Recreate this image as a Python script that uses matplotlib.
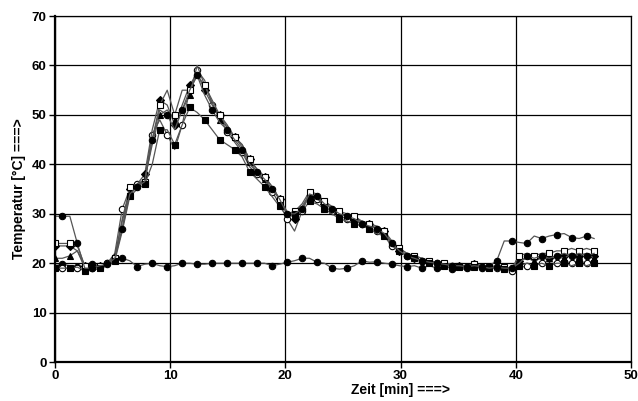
import matplotlib.pyplot as plt
import numpy as np

plt.rcParams['font.family'] = ['Liberation Sans', 'DejaVu Sans']

# time axis [min], one sample every 0.65 min
t = [0.0, 0.65, 1.3, 1.95, 2.6, 3.25, 3.9, 4.55, 5.2, 5.85, 6.5, 7.15, 7.8, 8.45, 9.1, 9.75,
     10.4, 11.05, 11.7, 12.35, 13.0, 13.65, 14.3, 14.95, 15.6, 16.25, 16.9, 17.55, 18.2, 18.85,
     19.5, 20.15, 20.8, 21.45, 22.1, 22.75, 23.4, 24.05, 24.7, 25.35, 26.0, 26.65, 27.3, 27.95,
     28.6, 29.25, 29.9, 30.55, 31.2, 31.85, 32.5, 33.15, 33.8, 34.45, 35.1, 35.75, 36.4, 37.05,
     37.7, 38.35, 39.0, 39.65, 40.3, 40.95, 41.6, 42.25, 42.9, 43.55, 44.2, 44.85, 45.5, 46.15, 46.8]

# temperatures [°C]
t_circle_hot = [29.5, 29.5, 29.5, 24, 19, 19, 19.5, 19.8, 21, 27, 34, 35.5, 36.5, 45, 51, 50,
                47, 51, 55, 58, 54, 51, 48.5, 47, 45, 43, 40, 38.5, 37, 35, 33, 30, 30, 31, 34,
                33.5, 32, 31, 30, 29.5, 29, 28, 27.5, 27, 26, 24, 22.5, 21.5, 21, 20.5, 20.2, 20,
                19.8, 19.5, 19.5, 19.3, 19.5, 19.3, 19, 19.2, 19, 19, 20, 21.5, 21, 21.5, 21,
                21.5, 22, 21.5, 22, 21.5, 22]
t_open_square = [24, 24, 24, 23.5, 19.5, 19, 19.5, 20, 21, 27, 35.5, 36, 36.5, 45, 52, 55, 50,
                 55, 55, 58, 56, 53, 50, 48, 45.5, 44, 41, 39, 37.5, 35.5, 33, 30, 30.5, 32,
                 34.5, 34, 32.5, 31.5, 30.5, 30, 29.5, 28.5, 28, 27.5, 26.5, 24.5, 23, 22, 21.5,
                 21, 20.5, 20.2, 20, 19.8, 19.5, 19.6, 19.8, 19.5, 19.3, 19.5, 19.2, 19, 21.5, 22,
                 21.5, 22, 22, 22.5, 22.5, 23, 22.5, 23, 22.5]
t_filled_square = [19, 19, 19, 19.2, 18.5, 18.5, 19, 19.5, 20.5, 26.5, 33.5, 35, 36, 40, 47, 47,
                   44, 48, 51.5, 50.5, 49, 47, 45, 44, 43, 41.5, 38.5, 37, 35.5, 33.5, 31.5,
                   29.5, 30, 30.5, 32.5, 32, 31, 30, 29, 28.5, 28, 27.5, 27, 26, 25.5, 23.5, 22.5,
                   21.5, 21, 20.5, 20, 19.8, 19.5, 19.5, 19.2, 19, 19.2, 19.5, 19, 19, 18.8, 18.8,
                   19.5, 20, 19.5, 20, 19.5, 20, 20, 19.5, 20, 19.5, 20]
t_triangle = [21, 21, 21.5, 22.5, 19, 19, 19.5, 20, 21.5, 28.5, 34.5, 35.5, 37, 44, 50, 51, 49,
              51, 54, 60, 56, 52.5, 49, 47.5, 45.5, 43.5, 40.5, 38.5, 37, 35, 33, 30, 29.5, 31.5,
              34, 33.5, 32.5, 31, 30, 29.5, 29, 28, 27.5, 27, 26, 24, 23, 22, 21.5, 21, 20.5, 20,
              20, 19.8, 19.5, 19.5, 19.8, 19.5, 19.3, 19.3, 19, 19, 20.5, 21, 20.5, 21, 21, 21.5,
              21, 22, 21.5, 22, 21]
t_diamond = [23.5, 23.5, 23.5, 22.5, 19.5, 19, 19.5, 19.8, 21, 29, 35, 36, 38, 47, 53, 52, 48,
             52, 56, 58.5, 55, 52, 50, 47.5, 45.5, 44, 41, 39, 37.5, 35.5, 33, 30.5, 29, 31, 33.5,
             33, 32, 31, 30, 29.5, 29, 28.5, 28, 27, 26.5, 24, 22.5, 21.5, 21, 20.5, 20.2, 20,
             19.8, 19.5, 19.5, 19.5, 19.8, 19.5, 19.2, 19.3, 19, 19.2, 20.5, 21, 21, 21.5, 21,
             21.5, 21.5, 22, 21.5, 22, 21.5]
t_open_circle = [19, 19, 19, 19, 18.5, 19, 19.5, 20, 22, 31, 35, 36, 37, 46, 49, 46, 43, 48,
                 55, 59, 57, 52, 49.5, 46.5, 44.5, 42.5, 39.5, 38, 36.5, 34.5, 32, 29, 26.5,
                 30.5, 34, 33, 31.5, 30.5, 29.5, 29, 28.5, 28, 27, 26.5, 25.5, 23.5, 22.5, 21.5,
                 21, 20.5, 20.2, 20, 19.8, 19.5, 19.3, 19.2, 19.5, 19.2, 19, 19, 18.8, 18.5, 19,
                 19.5, 19.5, 20, 20, 20, 20.5, 20, 20.5, 20, 20.5]
t_ambient = [19.5, 19.8, 19.5, 19.2, 19.5, 19.8, 19.5, 20, 20.2, 21, 20.5, 19.3, 19.8, 20, 19.5,
             19.3, 19.5, 20, 20, 19.8, 19.8, 20, 20, 20, 20, 20, 20, 20, 20, 19.5, 19.8, 20.2,
             20.5, 21, 21, 20.2, 20, 19, 18.8, 19, 19.5, 20.5, 20.2, 20.3, 20, 19.8, 19.5, 19.3,
             19.5, 19, 19.5, 19, 19.5, 18.8, 18.6, 19, 19.5, 19, 19.5, 20.5, 24.5, 24.5, 24.2,
             24, 25.5, 25, 25.5, 25.8, 26, 25.2, 25, 25.5, 25]

series = [
    (t_ambient, 'o', 'black', (1, 2)),
    (t_open_circle, 'o', 'white', (1, 2)),
    (t_diamond, 'D', 'black', (0, 2)),
    (t_triangle, '^', 'black', (0, 2)),
    (t_open_square, 's', 'white', (0, 2)),
    (t_filled_square, 's', 'black', (0, 2)),
    (t_circle_hot, 'o', 'black', (1, 2)),
]

fig = plt.figure(figsize=(6.38, 4.01), dpi=100)
ax = fig.add_axes([0.086, 0.097, 0.903, 0.863])

for y, m, fc, me in series:
    ms = 3.8 if m == 'D' else 4.6
    ax.plot(t, y, color='#555555', lw=0.9, marker=m, ms=ms, mfc=fc, mec='black',
            mew=0.8, markevery=me)

ax.set_xlim(0, 50)
ax.set_ylim(0, 70)
ax.set_xticks(np.arange(0, 51, 10))
ax.set_yticks(np.arange(0, 71, 10))
ax.grid(True, color='black', lw=0.9)
ax.set_axisbelow(True)
for s in ['left', 'bottom']:
    ax.spines[s].set_linewidth(1.6)
for s in ['top', 'right']:
    ax.spines[s].set_linewidth(0.9)
ax.tick_params(direction='out', length=4, width=1, labelsize=9.5, pad=2)
for lab in ax.get_xticklabels() + ax.get_yticklabels():
    lab.set_fontweight('bold')

ax.set_xlabel('Zeit [min] ===>', fontsize=10, fontweight='bold')
ax.xaxis.set_label_coords(0.6, -0.06)
ax.set_ylabel('Temperatur [°C] ===>', fontsize=10, fontweight='bold')
ax.yaxis.set_label_coords(-0.05, 0.5)

fig.savefig('out.png', dpi=100)
